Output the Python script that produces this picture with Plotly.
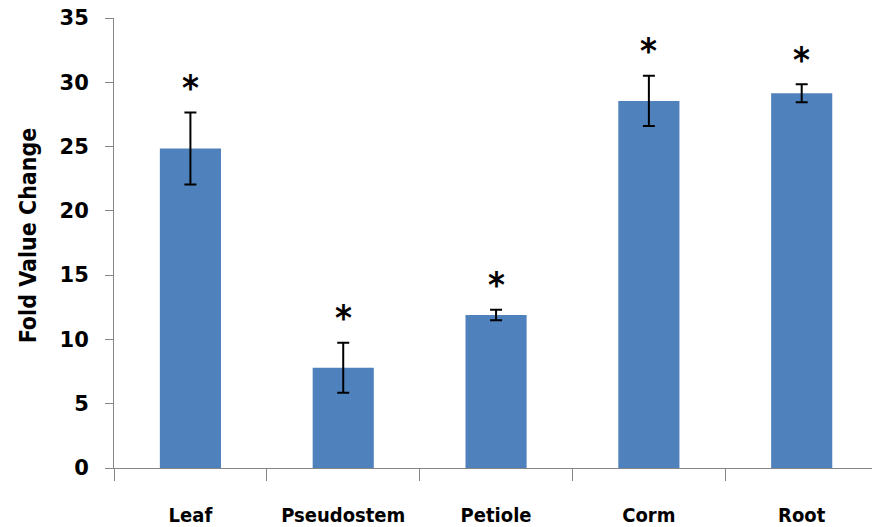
import plotly.graph_objects as go

categories = ["Leaf", "Pseudostem", "Petiole", "Corm", "Root"]
values = [24.85, 7.8, 11.9, 28.55, 29.15]
errors = [2.8, 1.95, 0.4, 1.95, 0.7]
marks = ["*", "*", "*", "*", "*"]
y_ticks = [0, 5, 10, 15, 20, 25, 30, 35]

W, H = 872, 527
ML, MR, MT, MB = 114, 0, 18, 59
FONT = "DejaVu Sans Condensed"

fig = go.Figure()
fig.add_trace(go.Bar(
    x=categories, y=values,
    marker=dict(color="#4F81BD", line=dict(width=0)),
    error_y=dict(type="data", array=errors, visible=True,
                 color="black", thickness=2, width=6),
    width=0.4,
))

for c, v, e, m in zip(categories, values, errors, marks):
    fig.add_annotation(x=c, y=v + e, text=m, showarrow=False,
                       xref="x", yref="y", yanchor="middle", yshift=25,
                       font=dict(family=FONT, size=36, color="black", weight="bold"))

fig.add_annotation(x=(28 - ML) / (W - ML - MR), y=0.517, xref="paper", yref="paper",
                   text="Fold Value Change", textangle=-90, showarrow=False,
                   xanchor="center", yanchor="middle",
                   font=dict(family=FONT, size=23, color="black", weight="bold"))

fig.update_layout(
    width=W, height=H,
    margin=dict(l=ML, r=MR, t=MT, b=MB, autoexpand=False),
    paper_bgcolor="white", plot_bgcolor="white",
    showlegend=False,
    bargap=0.6,
)
fig.update_xaxes(
    range=[-0.5, 4.46],
    showline=True, linecolor="#868686", linewidth=1,
    ticks="outside", tickson="boundaries", ticklen=12, tickcolor="#868686",
    ticklabelstandoff=29, tickangle=0,
    tickfont=dict(family=FONT, size=20, color="black", weight="bold"),
    showgrid=False, zeroline=False,
)
fig.update_yaxes(
    range=[0, 35], tickvals=y_ticks,
    showline=True, linecolor="#868686", linewidth=1,
    ticks="outside", ticklen=8, tickcolor="#868686",
    ticklabelstandoff=12, ticklabeloverflow="allow",
    tickfont=dict(family="DejaVu Sans", size=21, color="black", weight="bold"),
    showgrid=False, zeroline=False,
)

fig.write_html("out.html", config={"displayModeBar": False},
               post_script="document.body.style.margin='0';")
